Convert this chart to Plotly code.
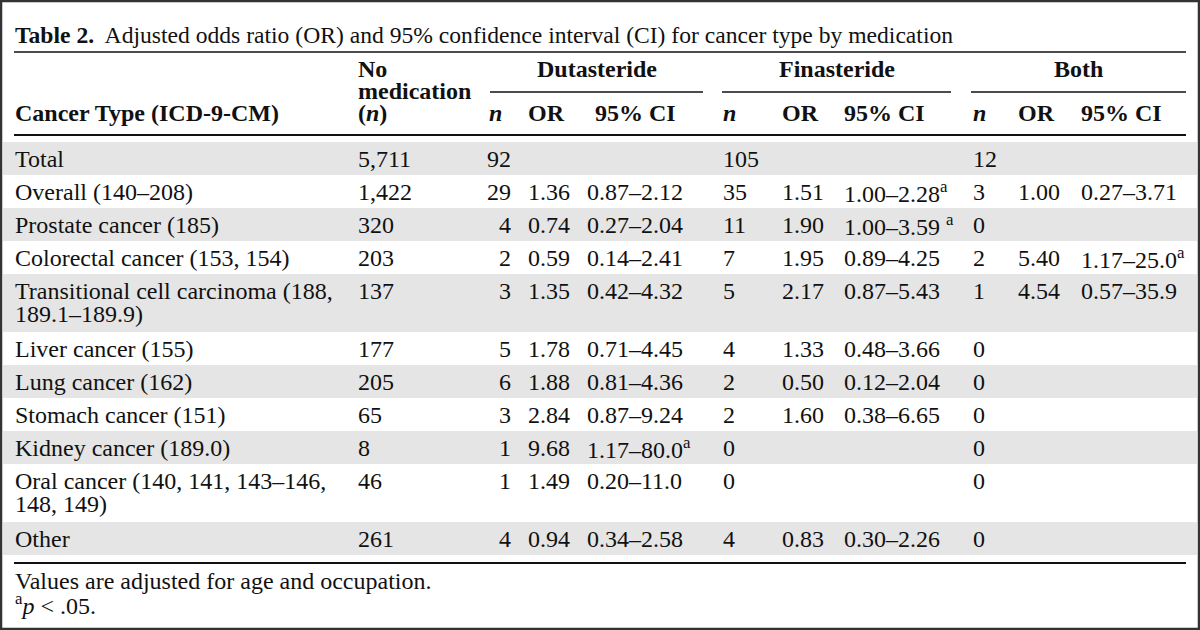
import plotly.graph_objects as go

# ---------------- data ----------------
title_bold = "Table 2."
title_text = "Adjusted odds ratio (OR) and 95% confidence interval (CI) for cancer type by medication"
first_header = "Cancer Type (ICD-9-CM)"
nomed_header = ["No", "medication", "(<i>n</i>)"]
groups = ["Dutasteride", "Finasteride", "Both"]
sub_headers = ["<i>n</i>", "OR", "95% CI"]

cancer_types = [
    "Total",
    "Overall (140–208)",
    "Prostate cancer (185)",
    "Colorectal cancer (153, 154)",
    "Transitional cell carcinoma (188,\n189.1–189.9)",
    "Liver cancer (155)",
    "Lung cancer (162)",
    "Stomach cancer (151)",
    "Kidney cancer (189.0)",
    "Oral cancer (140, 141, 143–146,\n148, 149)",
    "Other",
]
no_medication_n = ["5,711", "1,422", "320", "203", "137", "177", "205", "65", "8", "46", "261"]

dutasteride_n = ["92", "29", "4", "2", "3", "5", "6", "3", "1", "1", "4"]
dutasteride_or = ["", "1.36", "0.74", "0.59", "1.35", "1.78", "1.88", "2.84", "9.68", "1.49", "0.94"]
dutasteride_ci = ["", "0.87–2.12", "0.27–2.04", "0.14–2.41", "0.42–4.32", "0.71–4.45",
                  "0.81–4.36", "0.87–9.24", "1.17–80.0<sup>a</sup>", "0.20–11.0", "0.34–2.58"]

finasteride_n = ["105", "35", "11", "7", "5", "4", "2", "2", "0", "0", "4"]
finasteride_or = ["", "1.51", "1.90", "1.95", "2.17", "1.33", "0.50", "1.60", "", "", "0.83"]
finasteride_ci = ["", "1.00–2.28<sup>a</sup>", "1.00–3.59 <sup>a</sup>", "0.89–4.25", "0.87–5.43",
                  "0.48–3.66", "0.12–2.04", "0.38–6.65", "", "", "0.30–2.26"]

both_n = ["12", "3", "0", "2", "1", "0", "0", "0", "0", "0", "0"]
both_or = ["", "1.00", "", "5.40", "4.54", "", "", "", "", "", ""]
both_ci = ["", "0.27–3.71", "", "1.17–25.0<sup>a</sup>", "0.57–35.9", "", "", "", "", "", ""]

footnotes = ["Values are adjusted for age and occupation.", "<sup>a</sup><i>p</i> &lt; .05."]

# ---------------- layout constants ----------------
W, H = 1200, 630
FONT = "Liberation Serif, Times New Roman, serif"
FS = 24
INK = "#111111"
SHADE = "#e5e5e5"

X_LEFT, X_RIGHT = 14, 1186
X_NOMED = 357
# per group: (n_x, n_anchor, or_x, ci_x, head_n_x, head_ci_x, underline_x0, underline_x1)
group_cols = [
    (512, "right", 527, 586, 488, 594, 490, 703),
    (722, "left", 781, 843, 722, 843, 722, 951),
    (972, "left", 1017, 1080, 972, 1080, 971, 1186),
]

Y_TITLE = 35
Y_RULE_TOP = 52
Y_HEAD = [69, 91, 113]
Y_UNDER = 92
Y_RULE_HEAD = 135
ROW_TOP = 142
ROW_H_SINGLE = 33
ROW_H_DOUBLE = 58
LINE_GAP = 23
Y_RULE_BOTTOM = 563
Y_FOOT = [581, 604]

fig = go.Figure()
annotations = []
shapes = []


def txt(x, y, s, anchor="left", bold=False, size=FS):
    if bold:
        s = "<b>" + s + "</b>"
    annotations.append(dict(
        x=x, y=y, xref="x", yref="y", text=s, showarrow=False,
        xanchor=anchor, yanchor="middle", align=anchor if anchor != "center" else "center",
        font=dict(family=FONT, size=size, color=INK), borderpad=0,
    ))


def hline(y, x0, x1, w):
    shapes.append(dict(type="line", xref="x", yref="y", x0=x0, x1=x1, y0=y, y1=y,
                       line=dict(color=INK, width=w), layer="above"))


# title
txt(X_LEFT, Y_TITLE, "<b>" + title_bold + "</b>&nbsp; " + title_text, size=23.6)
hline(Y_RULE_TOP, X_LEFT, X_RIGHT, 1.6)

# header
txt(X_LEFT, Y_HEAD[2], first_header, bold=True)
for i, s in enumerate(nomed_header):
    txt(X_NOMED, Y_HEAD[i], s, bold=True)
for g, cols in zip(groups, group_cols):
    n_x, n_anchor, or_x, ci_x, hn_x, hci_x, u0, u1 = cols
    txt((u0 + u1) / 2, Y_HEAD[0], g, anchor="center", bold=True)
    hline(Y_UNDER, u0, u1, 1.6)
    txt(hn_x, Y_HEAD[2], sub_headers[0], bold=True)
    txt(or_x, Y_HEAD[2], sub_headers[1], bold=True)
    txt(hci_x, Y_HEAD[2], sub_headers[2], bold=True)
hline(Y_RULE_HEAD, X_LEFT, X_RIGHT, 2.2)

# body
group_values = [
    (dutasteride_n, dutasteride_or, dutasteride_ci),
    (finasteride_n, finasteride_or, finasteride_ci),
    (both_n, both_or, both_ci),
]
top = ROW_TOP
for r, label in enumerate(cancer_types):
    lines = label.split("\n")
    h = ROW_H_SINGLE if len(lines) == 1 else ROW_H_DOUBLE
    if r % 2 == 0:
        shapes.append(dict(type="rect", xref="x", yref="y", x0=3, x1=W - 3, y0=top, y1=top + h,
                           fillcolor=SHADE, line=dict(width=0), layer="below"))
    y1 = top + (h / 2 if len(lines) == 1 else 17)
    for k, ln in enumerate(lines):
        txt(X_LEFT, y1 + k * LINE_GAP, ln)
    txt(X_NOMED, y1, no_medication_n[r])
    for (nv, orv, civ), cols in zip(group_values, group_cols):
        n_x, n_anchor, or_x, ci_x = cols[:4]
        if nv[r]:
            txt(n_x, y1, nv[r], anchor=n_anchor)
        if orv[r]:
            txt(or_x, y1, orv[r])
        if civ[r]:
            txt(ci_x, y1, civ[r])
    top += h

hline(Y_RULE_BOTTOM, X_LEFT, X_RIGHT, 2.2)
for y, s in zip(Y_FOOT, footnotes):
    txt(X_LEFT, y, s)

# outer border
shapes.append(dict(type="rect", xref="x", yref="y", x0=1, x1=W - 1, y0=1, y1=H - 1,
                   line=dict(color="#333333", width=2.5), layer="above"))

fig.update_layout(
    width=W, height=H, autosize=False,
    margin=dict(l=0, r=0, t=0, b=0, pad=0),
    paper_bgcolor="white", plot_bgcolor="white",
    xaxis=dict(range=[0, W], visible=False, fixedrange=True),
    yaxis=dict(range=[H, 0], visible=False, fixedrange=True),
    annotations=annotations, shapes=shapes, showlegend=False,
)

fig.write_html("out.html", config={"displayModeBar": False, "staticPlot": True},
               post_script="document.body.style.margin='0';document.body.style.overflow='hidden';")
